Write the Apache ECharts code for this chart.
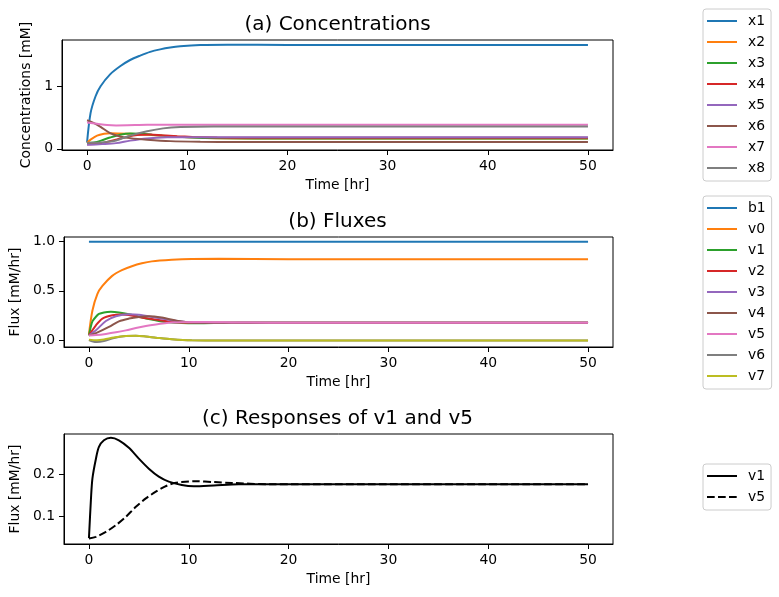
<!DOCTYPE html>
<html>
<head>
<meta charset="utf-8">
<script src="https://cdn.jsdelivr.net/npm/echarts@6/dist/echarts.min.js"></script>
<style>
  body { margin: 0; background: #fff; }
  #main { width: 779px; height: 597px; }
</style>
</head>
<body>
<div id="main"></div>
<script>
// colours (matplotlib tab10)
const colors = ["#1f77b4", "#ff7f0e", "#2ca02c", "#d62728", "#9467bd", "#8c564b", "#e377c2", "#7f7f7f", "#bcbd22"];

// x tick labels (time, hr)
const timeTicks = [0, 10, 20, 30, 40, 50];

// (a) concentrations [time, mM]
const concNames = ["x1", "x2", "x3", "x4", "x5", "x6", "x7", "x8"];
const x1 = [[0,0.10],[0.35,0.57],[0.85,0.84],[1.35,1.00],[2.3,1.19],[3.3,1.32],[4.3,1.42],[5.3,1.49],[6.3,1.55],[7.3,1.59],[8.3,1.62],[9.3,1.64],[11.3,1.66],[14,1.665],[20,1.66],[30,1.66],[50,1.66]];
const x2 = [[0,0.096],[0.35,0.145],[1,0.21],[1.7,0.24],[2.3,0.25],[4.3,0.24],[6,0.225],[7.6,0.21],[9.3,0.19],[12,0.172],[16,0.166],[50,0.165]];
const x3 = [[0,0.09],[0.7,0.10],[1.4,0.13],[2.3,0.18],[3.3,0.225],[4.3,0.245],[5.5,0.24],[6.5,0.225],[7.6,0.21],[9,0.19],[11,0.175],[14,0.168],[20,0.165],[50,0.165]];
const x4 = [[0,0.07],[1,0.08],[2,0.11],[3,0.15],[4,0.19],[5,0.22],[6.3,0.23],[7.5,0.215],[9,0.2],[10.5,0.19],[13,0.18],[16,0.175],[50,0.175]];
const x5 = [[0,0.064],[1.5,0.075],[2.9,0.09],[4.3,0.13],[6,0.165],[8,0.183],[10,0.186],[14,0.185],[50,0.185]];
const x6 = [[0,0.455],[0.7,0.41],[1.35,0.35],[2.3,0.25],[3.3,0.197],[4.3,0.17],[6,0.145],[8.3,0.122],[11.3,0.112],[15,0.108],[50,0.108]];
const x7 = [[0,0.42],[1,0.40],[2,0.38],[2.9,0.374],[4,0.376],[6,0.383],[10,0.385],[50,0.385]];
const x8 = [[0,0.096],[1,0.097],[2,0.11],[2.9,0.133],[4.3,0.21],[6,0.28],[7.6,0.326],[9.3,0.347],[12.6,0.357],[20,0.355],[50,0.355]];

// (b) fluxes [time, mM/hr]
const fluxNames = ["b1", "v0", "v1", "v2", "v3", "v4", "v5", "v6", "v7"];
const b1 = [[0,1.0],[50,1.0]];
const v0 = [[0,0.058],[0.35,0.30],[0.85,0.47],[1.35,0.55],[2.3,0.65],[3.3,0.71],[4.3,0.75],[5.3,0.78],[6.3,0.80],[8.3,0.816],[10.3,0.825],[13,0.828],[20,0.822],[50,0.822]];
const v1 = [[0,0.047],[0.2,0.14],[0.35,0.19],[0.7,0.237],[1,0.265],[1.5,0.281],[2.2,0.287],[3,0.281],[4,0.263],[5,0.237],[6,0.213],[7,0.194],[8,0.182],[9.3,0.174],[10.5,0.171],[12.5,0.173],[15,0.176],[50,0.176]];
const v2 = [[0,0.047],[0.7,0.15],[1.35,0.218],[2.35,0.252],[3.3,0.259],[4,0.255],[5,0.235],[6.7,0.208],[8.3,0.184],[10,0.176],[14,0.176],[50,0.176]];
const v3 = [[0,0.047],[0.7,0.099],[1.7,0.194],[2.7,0.242],[4,0.262],[5,0.257],[6.7,0.228],[8.3,0.20],[10,0.18],[13,0.175],[50,0.176]];
const v4 = [[0,0.047],[0.7,0.07],[2,0.133],[3,0.19],[4,0.218],[5,0.235],[6,0.242],[7.3,0.228],[8.6,0.20],[10.3,0.178],[14,0.176],[50,0.176]];
const v5 = [[0,0.046],[0.7,0.05],[1.7,0.062],[2.7,0.078],[3.7,0.098],[4.7,0.122],[5.7,0.142],[6.7,0.158],[7.6,0.17],[8.3,0.177],[9.3,0.181],[10.6,0.183],[12.6,0.181],[14.3,0.179],[18,0.176],[50,0.176]];
const v6 = [[0,0.0],[0.4,-0.015],[0.8,-0.02],[1.5,-0.01],[2.5,0.02],[3.7,0.04],[4.7,0.044],[5.7,0.036],[6.7,0.024],[8.3,0.007],[10.3,-0.003],[13,-0.004],[50,-0.004]];
const v7 = [[0,0.004],[0.8,-0.003],[1.5,0.005],[2.5,0.025],[3.7,0.041],[4.7,0.044],[5.7,0.036],[6.7,0.024],[8.3,0.007],[10.3,-0.003],[13,-0.004],[50,-0.004]];

const concData = [x1, x2, x3, x4, x5, x6, x7, x8];
const fluxData = [b1, v0, v1, v2, v3, v4, v5, v6, v7];

const FONT = "DejaVu Sans";
const chart = echarts.init(document.getElementById("main"));

const mkLine = (name, data, color, idx, dashed) => ({
  name: name,
  type: "line",
  data: data,
  xAxisIndex: idx,
  yAxisIndex: idx,
  symbol: "none",
  smooth: 0.3,
  animation: false,
  lineStyle: { width: 2, color: color, type: dashed ? [7.7, 3.3] : "solid" },
  itemStyle: { color: color },
});

const mkX = (idx) => ({
  type: "value",
  gridIndex: idx,
  min: -2.5,
  max: 52.5,
  name: "Time [hr]",
  nameLocation: "middle",
  nameGap: 28,
  nameTextStyle: { fontSize: 13.9, color: "#000", fontFamily: FONT },
  splitLine: { show: false },
  axisLine: { onZero: false, lineStyle: { color: "#000" } },
  axisTick: { customValues: timeTicks, length: 5, lineStyle: { color: "#000" } },
  axisLabel: { customValues: timeTicks, margin: 9, fontSize: 13.9, color: "#000", fontFamily: FONT },
});

const mkY = (idx, min, max, ticks, digits, name, gap) => ({
  type: "value",
  gridIndex: idx,
  min: min,
  max: max,
  name: name,
  nameLocation: "middle",
  nameGap: gap,
  nameTextStyle: { fontSize: 13.9, color: "#000", fontFamily: FONT },
  splitLine: { show: false },
  axisLine: { show: true, onZero: false, lineStyle: { color: "#000" } },
  axisTick: { show: true, customValues: ticks, length: 5, lineStyle: { color: "#000" } },
  axisLabel: {
    customValues: ticks, margin: 9, fontSize: 13.9, color: "#000", fontFamily: FONT,
    formatter: (v) => v.toFixed(digits),
  },
});

const mkLegend = (names, top) => ({
  orient: "vertical",
  left: 703,
  top: top,
  data: names,
  selectedMode: false,
  itemWidth: 30,
  itemHeight: 14,
  itemGap: 7,
  padding: [5, 6, 6, 3],
  borderColor: "#cccccc",
  borderWidth: 1,
  borderRadius: 3,
  itemStyle: { opacity: 0 },
  formatter: (n) => n.replace(" (c)", ""),
  textStyle: { fontSize: 13.9, color: "#000", fontFamily: FONT, padding: [0, 0, 0, 6] },
});

const mkTitle = (text, top) => ({
  text: text,
  left: 337.5,
  top: top,
  textAlign: "center",
  padding: 0,
  textStyle: { fontSize: 20, fontWeight: "normal", color: "#000", fontFamily: FONT },
});

const series = [];
concData.forEach((d, i) => series.push(mkLine(concNames[i], d, colors[i], 0, false)));
fluxData.forEach((d, i) => series.push(mkLine(fluxNames[i], d, colors[i], 1, false)));
series.push(mkLine("v1 (c)", v1, "#000", 2, false));
series.push(mkLine("v5 (c)", v5, "#000", 2, true));

const gridBox = { show: true, borderColor: "#000", borderWidth: 1, backgroundColor: "#fff" };

const option = {
  backgroundColor: "#fff",
  animation: false,
  title: [
    mkTitle("(a) Concentrations", 15),
    mkTitle("(b) Fluxes", 212),
    mkTitle("(c) Responses of v1 and v5", 409),
  ],
  grid: [
    Object.assign({ left: 62, top: 40, width: 551, height: 110 }, gridBox),
    Object.assign({ left: 62, top: 237, width: 551, height: 110 }, gridBox),
    Object.assign({ left: 62, top: 434, width: 551, height: 110 }, gridBox),
  ],
  xAxis: [mkX(0), mkX(1), mkX(2)],
  yAxis: [
    mkY(0, -0.02, 1.74, [0, 1], 0, "Concentrations [mM]", 24),
    mkY(1, -0.071, 1.048, [0, 0.5, 1.0], 1, "Flux [mM/hr]", 36),
    mkY(2, 0.033, 0.296, [0.1, 0.2], 1, "Flux [mM/hr]", 36),
  ],
  legend: [
    mkLegend(concNames, 9),
    mkLegend(fluxNames, 196),
    mkLegend(["v1 (c)", "v5 (c)"], 464),
  ],
  series: series,
};

chart.setOption(option);
</script>
</body>
</html>
